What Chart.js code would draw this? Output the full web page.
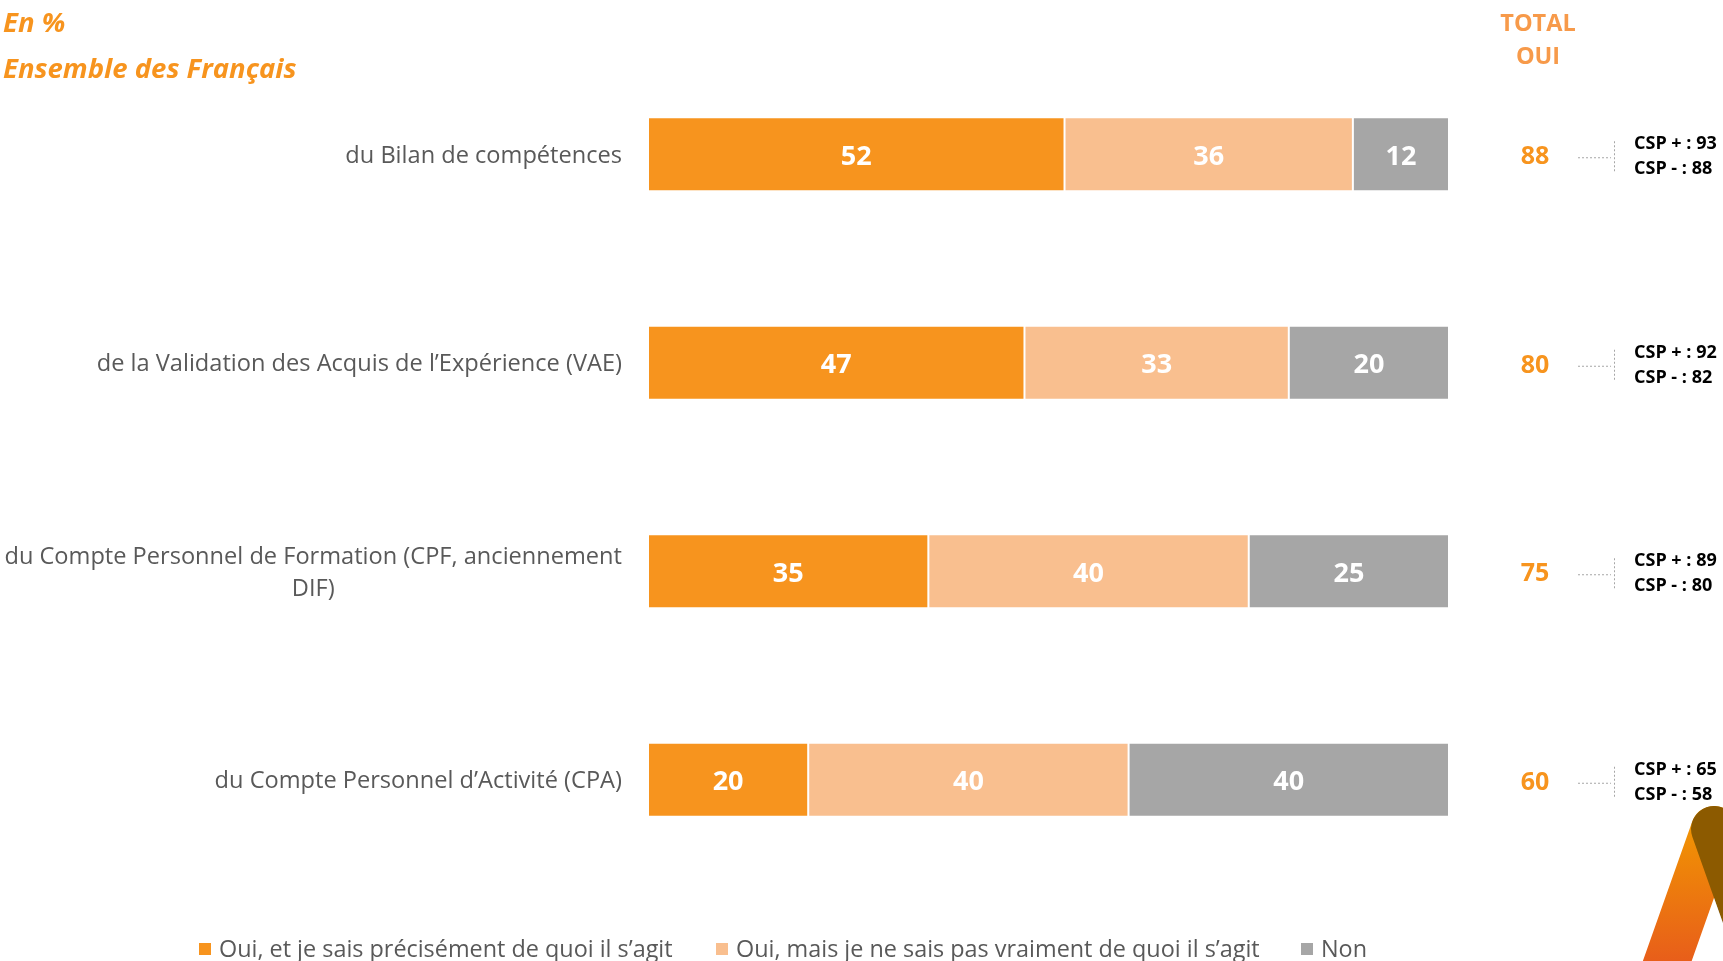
<!DOCTYPE html>
<html>
<head>
<meta charset="utf-8">
<script src="https://cdn.jsdelivr.net/npm/chart.js@4/dist/chart.umd.min.js"></script>
<style>
  html, body { margin: 0; padding: 0; background: #ffffff; }
  #wrap { width: 1723px; height: 961px; position: relative; }
</style>
</head>
<body>
<div id="wrap"><canvas id="c" width="1723" height="961"></canvas></div>
<script>
// ---- Data ----
const categories = [
  "du Bilan de compétences",
  "de la Validation des Acquis de l’Expérience (VAE)",
  ["du Compte Personnel de Formation (CPF, anciennement", "DIF)"],
  "du Compte Personnel d’Activité (CPA)"
];
const seriesNames = [
  "Oui, et je sais précisément de quoi il s’agit",
  "Oui, mais je ne sais pas vraiment de quoi il s’agit",
  "Non"
];
const ouiPrecis = [52, 47, 35, 20];
const ouiVague = [36, 33, 40, 40];
const nonValues = [12, 20, 25, 40];
const totalOui = [88, 80, 75, 60];
const cspPlus = [93, 92, 89, 65];
const cspMinus = [88, 82, 80, 58];
const titleLines = ["En %", "Ensemble des Français"];
const totalHeader = ["TOTAL", "OUI"];

const colors = ["#F7941E", "#F9BF8F", "#A6A6A6"];
const ORANGE = "#F7941E";

const overlay = {
  id: "overlay",
  afterDatasetsDraw(chart) {
    const ctx = chart.ctx;
    const yScale = chart.scales.y;
    ctx.save();

    // values inside bars
    ctx.font = "bold 27px 'Open Sans'";
    ctx.fillStyle = "#ffffff";
    ctx.textAlign = "center";
    ctx.textBaseline = "middle";
    chart.data.datasets.forEach((ds, di) => {
      const meta = chart.getDatasetMeta(di);
      meta.data.forEach((el, i) => {
        const cx = (el.x + el.base) / 2;
        ctx.fillText(String(ds.data[i]), cx, el.y + 3);
      });
    });

    // category labels
    ctx.font = "23.6px 'Open Sans'";
    ctx.fillStyle = "#595959";
    categories.forEach((lab, i) => {
      const y = yScale.getPixelForValue(i) + 2;
      const lines = Array.isArray(lab) ? lab : [lab];
      const maxW = Math.max(...lines.map(l => ctx.measureText(l).width));
      const cx = 622 - maxW / 2;
      const lh = 32;
      lines.forEach((l, k) => {
        const ly = y + (k - (lines.length - 1) / 2) * lh;
        ctx.textAlign = "center";
        ctx.fillText(l, cx, ly);
      });
    });

    // totals and CSP
    categories.forEach((lab, i) => {
      const y = yScale.getPixelForValue(i) + 3;
      ctx.font = "bold 25px 'Open Sans'";
      ctx.fillStyle = ORANGE;
      ctx.textAlign = "center";
      ctx.fillText(String(totalOui[i]), 1535, y);

      ctx.strokeStyle = "#A6A6A6";
      ctx.lineWidth = 1;
      ctx.setLineDash([2, 2]);
      ctx.beginPath();
      ctx.moveTo(1578, y + 0.5);
      ctx.lineTo(1611, y + 0.5);
      ctx.moveTo(1614.5, y - 16);
      ctx.lineTo(1614.5, y + 16);
      ctx.stroke();
      ctx.setLineDash([]);

      ctx.font = "bold 18px 'Open Sans'";
      ctx.fillStyle = "#000000";
      ctx.textAlign = "left";
      ctx.fillText("CSP + : " + cspPlus[i], 1634, y - 13);
      ctx.fillText("CSP - : " + cspMinus[i], 1634, y + 12);
    });

    // header titles
    ctx.font = "italic bold 27.5px 'Open Sans'";
    ctx.fillStyle = ORANGE;
    ctx.textAlign = "left";
    ctx.fillText(titleLines[0], 3, 24);
    ctx.fillText(titleLines[1], 3, 70);

    ctx.font = "bold 23.5px 'Open Sans'";
    ctx.fillStyle = "#F79A4A";
    ctx.textAlign = "center";
    ctx.fillText(totalHeader[0], 1538, 24);
    ctx.fillText(totalHeader[1], 1538, 57);

    // legend
    const legendX = [199, 716, 1301];
    ctx.font = "23.4px 'Open Sans'";
    ctx.textAlign = "left";
    seriesNames.forEach((n, k) => {
      ctx.fillStyle = colors[k];
      ctx.fillRect(legendX[k], 943, 12, 12);
      ctx.fillStyle = "#595959";
      ctx.fillText(n, legendX[k] + 20, 950);
    });

    // decorative logo (bottom right)
    const cxTop = 1714, cyTop = 829, w = 46;
    const orangePath = () => { ctx.beginPath(); ctx.moveTo(cxTop, cyTop); ctx.lineTo(1657, 990); };
    const grayPath = () => { ctx.beginPath(); ctx.moveTo(cxTop, cyTop); ctx.lineTo(1771, 990); };
    ctx.lineCap = "round";
    ctx.lineWidth = w;
    ctx.strokeStyle = "#9E9E9E";
    grayPath(); ctx.stroke();
    const g = ctx.createLinearGradient(0, 810, 0, 961);
    g.addColorStop(0, "#F29A00");
    g.addColorStop(1, "#E85E1A");
    ctx.strokeStyle = g;
    orangePath(); ctx.stroke();
    ctx.save();
    ctx.globalCompositeOperation = "source-atop";
    ctx.strokeStyle = "#8C5A00";
    grayPath(); ctx.stroke();
    ctx.restore();

    ctx.restore();
  }
};

new Chart(document.getElementById("c"), {
  type: "bar",
  data: {
    labels: categories,
    datasets: [
      { label: seriesNames[0], data: ouiPrecis, backgroundColor: colors[0] },
      { label: seriesNames[1], data: ouiVague, backgroundColor: colors[1] },
      { label: seriesNames[2], data: nonValues, backgroundColor: colors[2] }
    ].map(d => Object.assign(d, {
      borderColor: "#ffffff", borderWidth: 1, borderSkipped: false,
      categoryPercentage: 1.0, barPercentage: 0.355
    }))
  },
  options: {
    indexAxis: "y",
    responsive: false,
    animation: false,
    devicePixelRatio: 1,
    layout: { padding: { left: 648, right: 274, top: 50, bottom: 77 } },
    scales: {
      x: { stacked: true, min: 0, max: 100, display: false },
      y: { stacked: true, display: false }
    },
    plugins: { legend: { display: false }, tooltip: { enabled: false } }
  },
  plugins: [overlay]
});
</script>
</body>
</html>
